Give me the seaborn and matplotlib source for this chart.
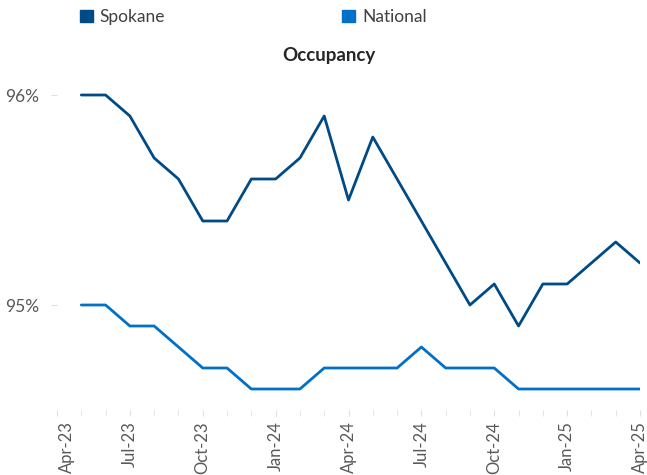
import pandas as pd
import seaborn as sns
import matplotlib.pyplot as plt
from matplotlib.patches import Patch
from matplotlib.transforms import ScaledTranslation

months = ['May-23', 'Jun-23', 'Jul-23', 'Aug-23', 'Sep-23', 'Oct-23', 'Nov-23', 'Dec-23',
          'Jan-24', 'Feb-24', 'Mar-24', 'Apr-24', 'May-24', 'Jun-24', 'Jul-24', 'Aug-24',
          'Sep-24', 'Oct-24', 'Nov-24', 'Dec-24', 'Jan-25', 'Feb-25', 'Mar-25', 'Apr-25']
spokane = [96.0, 96.0, 95.9, 95.7, 95.6, 95.4, 95.4, 95.6, 95.6, 95.7, 95.9, 95.5,
           95.8, 95.6, 95.4, 95.2, 95.0, 95.1, 94.9, 95.1, 95.1, 95.2, 95.3, 95.2]
national = [95.0, 95.0, 94.9, 94.9, 94.8, 94.7, 94.7, 94.6, 94.6, 94.6, 94.7, 94.7,
            94.7, 94.7, 94.8, 94.7, 94.7, 94.7, 94.6, 94.6, 94.6, 94.6, 94.6, 94.6]
tick_labels = ['Apr-23', 'Jul-23', 'Oct-23', 'Jan-24', 'Apr-24',
               'Jul-24', 'Oct-24', 'Jan-25', 'Apr-25']
series_names = ['Spokane', 'National']
colors = ['#004A86', '#0070C8']

sns.set_style('white')
plt.rcParams['font.family'] = ['Lato', 'DejaVu Sans']

df = pd.DataFrame({'idx': list(range(len(months))) * 2,
                   'value': spokane + national,
                   'series': ['Spokane'] * len(spokane) + ['National'] * len(national)})

fig = plt.figure(figsize=(6.47, 4.75), dpi=100)
ax = fig.add_axes([57 / 647, 1 - 410 / 475, (640 - 57) / 647, (410 - 74) / 475])

sns.lineplot(data=df, x='idx', y='value', hue='series', hue_order=series_names,
             palette=colors, linewidth=2.0, ax=ax, legend=False)

ax.set_xlim(-1, 23)
ax.set_ylim(94.5, 96.1)
ax.set_xlabel('')
ax.set_ylabel('')
for s in ax.spines.values():
    s.set_visible(False)

# month ticks: one label per quarter, faint marks every month
ax.set_xticks(list(range(-1, 24, 3)))
ax.set_xticklabels(tick_labels, rotation=90, fontsize=12, color='#595959')
ax.set_xticks(list(range(-1, 24)), minor=True)
ax.tick_params(axis='x', which='both', direction='out', length=4, color='#E0E0E0',
               bottom=True, pad=4)
# first label sits a bit inside the plot edge, like the original
first = ax.get_xticklabels()[0]
first.set_transform(first.get_transform() + ScaledTranslation(10 / 100, 0, fig.dpi_scale_trans))

ax.set_yticks([95, 96])
ax.set_yticklabels(['95%', '96%'], fontsize=12.5, color='#595959')
ax.tick_params(axis='y', direction='out', length=4, color='#E0E0E0', left=True, pad=9)

fig.text(0.508, 1 - 56 / 475, 'Occupancy', ha='center', va='center',
         fontsize=13.5, fontweight='bold', color='#262626')

handles = [Patch(facecolor=c, edgecolor=c) for c in colors]
fig.legend(handles, series_names, loc='center left', bbox_to_anchor=(64 / 647, 1 - 17 / 475),
           ncol=2, frameon=False, fontsize=12.5, labelcolor='#404040',
           handlelength=0.75, handleheight=0.75, handletextpad=0.4, columnspacing=10.2)

fig.savefig('out.png', dpi=100)
